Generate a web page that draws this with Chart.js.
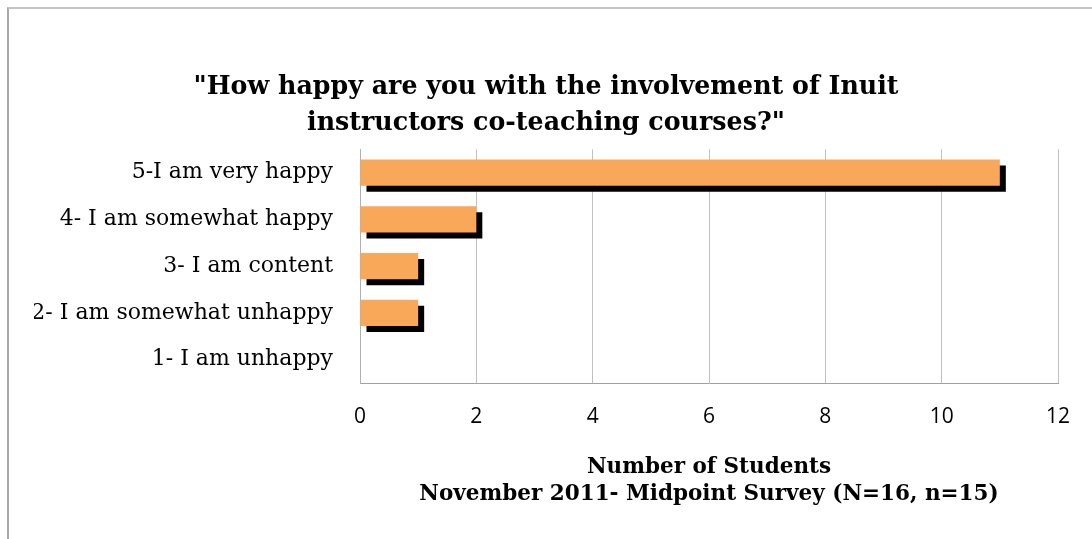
<!DOCTYPE html>
<html>
<head>
<meta charset="utf-8">
<script src="https://cdn.jsdelivr.net/npm/chart.js@4"></script>
<style>
  body { margin: 0; background: #fff; }
  #wrap { position: relative; width: 1092px; height: 539px; overflow: hidden; }
  #frame { position: absolute; left: 7px; top: 7px; width: 1200px; height: 600px;
    border-top: 2px solid #c4c4c4; border-left: 2px solid #a8a8a8; pointer-events: none; }
</style>
</head>
<body>
<div id="wrap">
  <canvas id="survey-chart" width="1092" height="539"></canvas>
  <div id="frame"></div>
</div>
<script>
const answers = [
  '5-I am very happy',
  '4- I am somewhat happy',
  '3- I am content',
  '2- I am somewhat unhappy',
  '1- I am unhappy'
]
const students = [11, 2, 1, 1, 0]
const xTicks = [0, 2, 4, 6, 8, 10, 12]

const titleLines = [
  '"How happy are you with the involvement of Inuit',
  'instructors co-teaching courses?"'
]
const axisTitleLines = [
  'Number of Students',
  'November 2011- Midpoint Survey (N=16, n=15)'
]

const serif = '"DejaVu Serif", "Liberation Serif", serif'

// black drop shadow behind the bars
const barShadow = {
  id: 'barShadow',
  beforeDatasetDraw(chart) {
    const c = chart.ctx
    c.save()
    c.shadowColor = '#000'
    c.shadowOffsetX = 6
    c.shadowOffsetY = 6
    c.shadowBlur = 0
  },
  afterDatasetDraw(chart) {
    chart.ctx.restore()
  }
}

const ctx = document.querySelector('#survey-chart').getContext('2d')

const config = {
  type: 'bar',
  data: {
    labels: answers,
    datasets: [{
      data: students,
      backgroundColor: '#f9a85a',
      borderWidth: 0,
      barPercentage: 0.56,
      categoryPercentage: 1
    }]
  },
  options: {
    indexAxis: 'y',
    responsive: false,
    animation: false,
    layout: { padding: { top: 0, right: 34, bottom: 0, left: 34 } },
    plugins: {
      legend: { display: false },
      tooltip: { enabled: false },
      title: {
        display: true,
        text: titleLines,
        color: '#000',
        font: { family: serif, size: 25.3, weight: 'bold', lineHeight: 1.4 },
        padding: { top: 70, bottom: 8.5 }
      }
    },
    scales: {
      x: {
        min: 0,
        max: 12,
        afterBuildTicks: s => { s.ticks = xTicks.map(v => ({ value: v })) },
        afterFit: s => { s.height = 156 },
        grid: { color: '#c0c0c0', lineWidth: 1, drawTicks: false },
        border: { color: '#a0a0a0', width: 1 },
        ticks: {
          color: '#000',
          padding: 21,
          font: { family: '"Open Sans", sans-serif', size: 21 }
        },
        title: {
          display: true,
          text: axisTitleLines,
          color: '#000',
          font: { family: serif, size: 21.5, weight: 'bold', lineHeight: 1.26 },
          padding: { bottom: 31 }
        }
      },
      y: {
        afterFit: s => { s.width = 326 },
        grid: { display: false, drawTicks: false },
        border: { color: '#b0b0b0', width: 1 },
        ticks: {
          color: '#000',
          padding: 27,
          font: { family: serif, size: 22 }
        }
      }
    }
  },
  plugins: [barShadow]
}

const barChart = new Chart(ctx, config)
</script>
</body>
</html>
